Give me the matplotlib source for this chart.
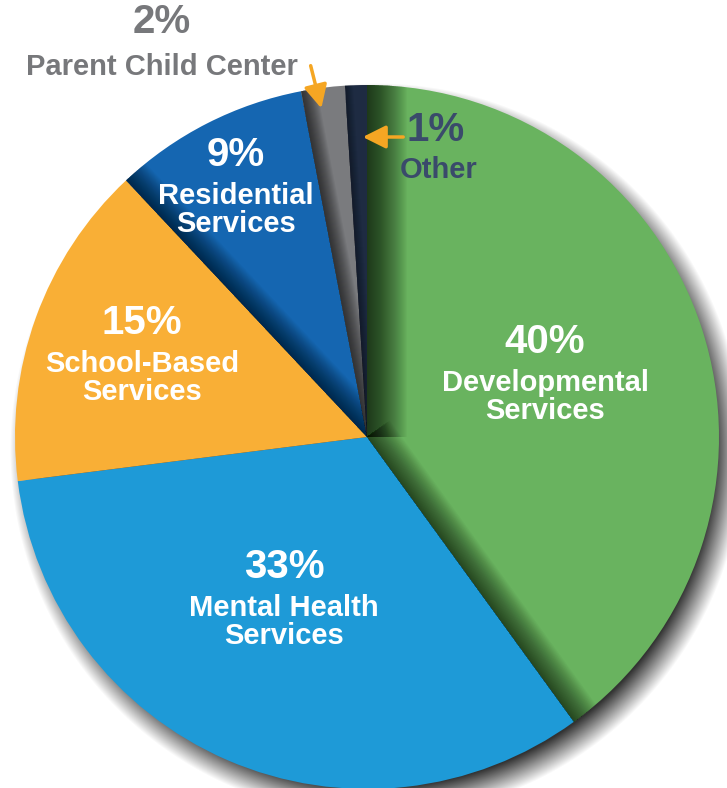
import numpy as np
import matplotlib.pyplot as plt
from matplotlib.patches import Polygon

plt.rcParams['font.family'] = ['Liberation Sans', 'DejaVu Sans']

labels = ['Developmental\nServices', 'Mental Health\nServices', 'School-Based\nServices',
          'Residential\nServices', 'Parent Child Center', 'Other']
pcts = [40, 33, 15, 9, 2, 1]
colors = ['#69B35F', '#1E9AD7', '#F9AF36', '#1566B1', '#7A7B7E', '#1E2B42']

W, H = 727, 788
cx, cy, r = 367, H - 437, 352

fig = plt.figure(figsize=(W / 100, H / 100), dpi=100)
ax = fig.add_axes([0, 0, 1, 1])

xx, yy = np.meshgrid(np.arange(W) + 0.5, np.arange(H) + 0.5)

# soft drop shadow, lower right
dist = np.hypot(xx - (cx + 10), yy - (cy - 13))
blur = 15
sh = np.clip((r + blur - dist) / (2 * blur), 0, 1) * 0.8
rgba = np.zeros((H, W, 4))
rgba[..., 3] = sh
ax.imshow(rgba, extent=(0, W, 0, H), origin='lower', zorder=1, interpolation='bilinear')

wedges, _ = ax.pie(pcts, colors=colors, startangle=90, counterclock=False,
                   center=(cx, cy), radius=r, frame=True,
                   wedgeprops=dict(linewidth=0, zorder=2))

# darker bands along some slice edges: (slice, which edge, width px, darkness at edge)
cum = np.cumsum([0] + pcts) / 100.0
edge_ang = 90 - cum * 360
shades = [(0, 'start', 40, 0.6), (0, 'end', 28, 0.55),
          (3, 'start', 26, 0.5), (4, 'start', 16, 0.55), (5, 'start', 8, 0.3)]
c = np.array([cx, cy])
for idx, side, w, a in shades:
    t = np.deg2rad(edge_ang[idx] if side == 'start' else edge_ang[idx + 1])
    u = np.array([np.cos(t), np.sin(t)])
    n = np.array([np.sin(t), -np.cos(t)]) if side == 'start' else np.array([-np.sin(t), np.cos(t)])
    b = 1 - (1 - a) ** (1.0 / w)
    for k in range(1, w + 1):
        pts = [c - 3 * n, c + (r + 20) * u - 3 * n,
               c + (r + 20) * u + k * n, c + k * n]
        p = Polygon(pts, closed=True, facecolor='black', alpha=b, lw=0, zorder=3)
        ax.add_patch(p)
        p.set_clip_path(wedges[idx])

ax.set_xlim(0, W)
ax.set_ylim(0, H)
ax.axis('off')

# in-slice labels (image coords, y from top)
pos = {0: (545, 342), 1: (284, 567), 2: (142, 323), 3: (236, 155)}
for i, (x, y) in pos.items():
    ax.text(x, H - y, f'{pcts[i]}%', color='white', fontsize=29, fontweight='bold',
            ha='center', va='center', zorder=5)
    ax.text(x, H - y - 55, labels[i], color='white', fontsize=21, fontweight='bold',
            ha='center', va='center', linespacing=0.97, zorder=5)

grey = '#77787B'
ax.text(162, H - 22, f'{pcts[4]}%', color=grey, fontsize=29, fontweight='bold', ha='center', va='center')
ax.text(162, H - 67, labels[4], color=grey, fontsize=21, fontweight='bold', ha='center', va='center')

navy = '#3A4A6B'
ax.text(436, H - 130, f'{pcts[5]}%', color=navy, fontsize=29, fontweight='bold', ha='center', va='center')
ax.text(439, H - 170, labels[5], color=navy, fontsize=21, fontweight='bold', ha='center', va='center')

arrow = dict(arrowstyle='-|>,head_length=0.7,head_width=0.35', color='#F5A623', lw=2.5, mutation_scale=20)
ax.annotate('', xy=(322, H - 111), xytext=(310, H - 63), arrowprops=arrow, zorder=6)
ax.annotate('', xy=(360, H - 137), xytext=(406, H - 137), arrowprops=arrow, zorder=6)

fig.savefig('out.png', dpi=100, facecolor='white')
